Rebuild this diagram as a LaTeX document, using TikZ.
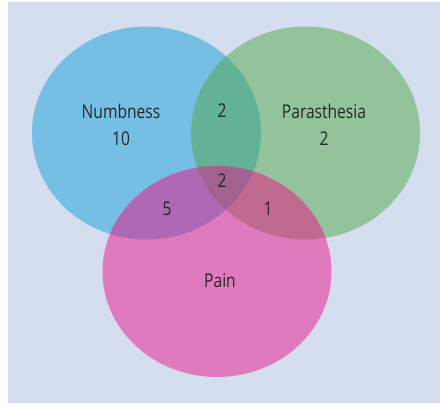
\documentclass[tikz,border=0pt]{standalone}
\usepackage{fontspec}
\setmainfont[FakeStretch=0.82]{Open Sans}
\definecolor{bgc}{HTML}{D5DEEE}
\definecolor{cA}{HTML}{75BEE4}
\definecolor{cB}{HTML}{93C39B}
\definecolor{cC}{HTML}{DF7ABE}
\definecolor{cAB}{HTML}{62B297}
\definecolor{cAC}{HTML}{AE68B5}
\definecolor{cBC}{HTML}{C06A8F}
\definecolor{cABC}{HTML}{A16291}
\tikzset{lbl/.style={font=\fontsize{19}{27}\selectfont, text=black!85, inner sep=0pt, align=center}}
\def\ellA{(146.5,133) ellipse [x radius=114.5, y radius=106.5]}
\def\ellB{(305.5,133) ellipse [x radius=114.5, y radius=106.5]}
\def\ellC{(217,271.5) ellipse [x radius=114.5, y radius=105.5]}
\begin{document}
\begin{tikzpicture}[x=1pt,y=-1pt]
\useasboundingbox (0,0) rectangle (440,405);
\fill[bgc] (8,2) rectangle (440,403);
\fill[cA] \ellA;
\fill[cB] \ellB;
\fill[cC] \ellC;
\begin{scope}\clip \ellA; \fill[cAB] \ellB; \end{scope}
\begin{scope}\clip \ellA; \fill[cAC] \ellC; \end{scope}
\begin{scope}\clip \ellB; \fill[cBC] \ellC; \end{scope}
\begin{scope}\clip \ellA; \clip \ellB; \fill[cABC] \ellC; \end{scope}
\node[lbl] (numb) at (121,124.5) {Numbness\\10};
\node[lbl] (par) at (324,124.5) {Parasthesia\\2};
\node[lbl] (ab) at (222,111) {2};
\node[lbl] (abc) at (222,181) {2};
\node[lbl] (ac) at (167,209) {5};
\node[lbl] (bc) at (268,209) {1};
\node[lbl] (pain) at (220,281) {Pain};
\end{tikzpicture}
\end{document}
